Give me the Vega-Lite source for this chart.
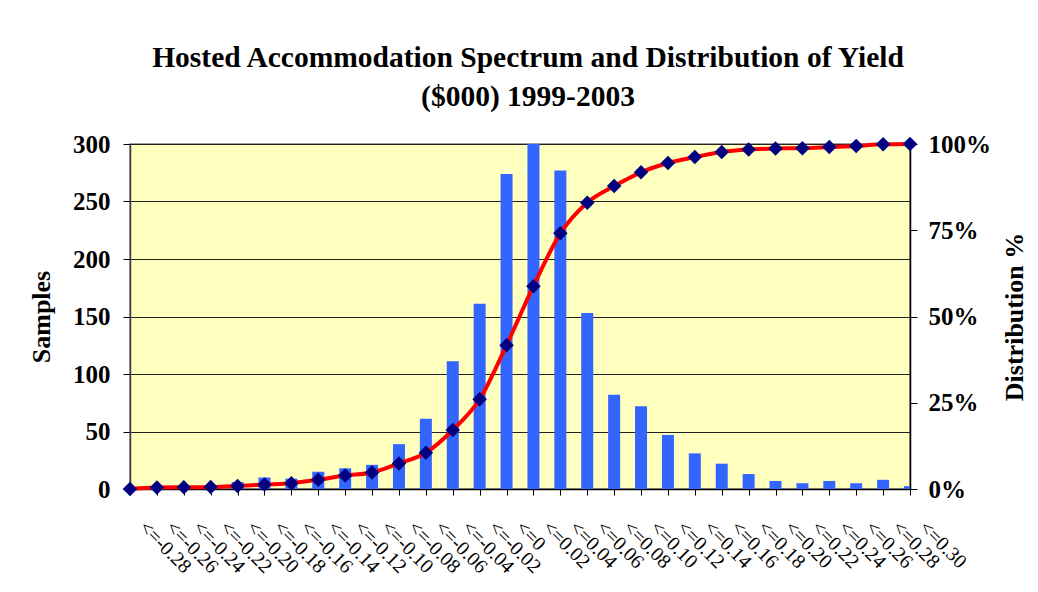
{
  "$schema": "https://vega.github.io/schema/vega-lite/v6.json",
  "width": 780,
  "height": 345,
  "autosize": {"type": "none"},
  "padding": {"left": 130, "top": 144, "right": 128, "bottom": 103},
  "background": "white",
  "config": {
    "view": {"fill": "#FFFFC0", "stroke": "#808080", "strokeWidth": 1.5},
    "font": "Liberation Serif"
  },
  "title": {
    "text": ["Hosted Accommodation Spectrum and Distribution of Yield", "($000) 1999-2003"],
    "font": "Liberation Serif",
    "fontSize": 29.5,
    "fontWeight": "bold",
    "color": "black",
    "anchor": "middle",
    "lineHeight": 39,
    "offset": 20,
    "dx": 8
  },
  "data": {
    "values": [
      {"bin": "<=-0.28", "count": 0, "cum": 0},
      {"bin": "<=-0.26", "count": 1, "cum": 0.004},
      {"bin": "<=-0.24", "count": 2, "cum": 0.005},
      {"bin": "<=-0.22", "count": 1, "cum": 0.006},
      {"bin": "<=-0.20", "count": 6, "cum": 0.009},
      {"bin": "<=-0.18", "count": 10, "cum": 0.013},
      {"bin": "<=-0.16", "count": 9, "cum": 0.017},
      {"bin": "<=-0.14", "count": 15, "cum": 0.027},
      {"bin": "<=-0.12", "count": 18, "cum": 0.039},
      {"bin": "<=-0.10", "count": 21, "cum": 0.048},
      {"bin": "<=-0.08", "count": 39, "cum": 0.074},
      {"bin": "<=-0.06", "count": 61, "cum": 0.105},
      {"bin": "<=-0.04", "count": 111, "cum": 0.171},
      {"bin": "<=-0.02", "count": 161, "cum": 0.26},
      {"bin": "<=0", "count": 274, "cum": 0.417},
      {"bin": "<=0.02", "count": 302, "cum": 0.588},
      {"bin": "<=0.04", "count": 277, "cum": 0.741},
      {"bin": "<=0.06", "count": 153, "cum": 0.83},
      {"bin": "<=0.08", "count": 82, "cum": 0.878},
      {"bin": "<=0.10", "count": 72, "cum": 0.918},
      {"bin": "<=0.12", "count": 47, "cum": 0.945},
      {"bin": "<=0.14", "count": 31, "cum": 0.962},
      {"bin": "<=0.16", "count": 22, "cum": 0.977},
      {"bin": "<=0.18", "count": 13, "cum": 0.984},
      {"bin": "<=0.20", "count": 7, "cum": 0.987},
      {"bin": "<=0.22", "count": 5, "cum": 0.988},
      {"bin": "<=0.24", "count": 7, "cum": 0.991},
      {"bin": "<=0.26", "count": 5, "cum": 0.994},
      {"bin": "<=0.28", "count": 8, "cum": 0.999},
      {"bin": "<=0.30", "count": 2.5, "cum": 1.0}
    ]
  },
  "encoding": {
    "x": {
      "field": "bin",
      "type": "ordinal",
      "sort": null,
      "scale": {"type": "point", "padding": 0},
      "axis": {
        "title": null,
        "labelAngle": 45,
        "labelFont": "Liberation Serif",
        "labelFontSize": 20,
        "labelColor": "black",
        "labelPadding": 22,
        "labelOffset": 19,
        "labelAlign": "left",
        "labelBaseline": "top",
        "domainColor": "black",
        "domainWidth": 1.5,
        "tickColor": "black",
        "tickSize": 6,
        "labelOverlap": false
      }
    }
  },
  "layer": [
    {
      "mark": {"type": "bar", "color": "#3366FF", "width": 12, "clip": true},
      "encoding": {
        "y": {
          "field": "count",
          "type": "quantitative",
          "scale": {"domain": [0, 300], "nice": false},
          "axis": {
            "orient": "left",
            "title": "Samples",
            "titleFont": "Liberation Serif",
            "titleFontSize": 26,
            "titleFontWeight": "bold",
            "titleColor": "black",
            "titlePadding": 18,
            "values": [0, 50, 100, 150, 200, 250, 300],
            "labelFont": "Liberation Serif",
            "labelFontSize": 25,
            "labelFontWeight": "bold",
            "labelColor": "black",
            "labelPadding": 13,
            "domainColor": "#404040",
            "domainWidth": 1.5,
            "tickColor": "black",
            "tickSize": 7,
            "grid": true,
            "gridColor": "#222222",
            "gridWidth": 1
          }
        }
      }
    },
    {
      "encoding": {
        "y": {
          "field": "cum",
          "type": "quantitative",
          "scale": {"domain": [0, 1], "nice": false},
          "axis": {
            "orient": "right",
            "title": "Distribution %",
            "titleAngle": 270,
            "titleFont": "Liberation Serif",
            "titleFontSize": 26,
            "titleFontWeight": "bold",
            "titleColor": "black",
            "titlePadding": 37,
            "values": [0, 0.25, 0.5, 0.75, 1],
            "format": ".0%",
            "labelFont": "Liberation Serif",
            "labelFontSize": 25,
            "labelFontWeight": "bold",
            "labelColor": "black",
            "labelPadding": 11,
            "domainColor": "black",
            "domainWidth": 1.5,
            "tickColor": "black",
            "tickSize": 7,
            "grid": false
          }
        }
      },
      "layer": [
        {
          "mark": {"type": "line", "color": "#FF0000", "strokeWidth": 4, "interpolate": "monotone"},
          "encoding": {}
        },
        {
          "mark": {"type": "point", "shape": "diamond", "filled": true, "color": "#000080", "opacity": 1, "size": 210},
          "encoding": {}
        }
      ]
    }
  ],
  "resolve": {"scale": {"y": "independent"}}
}
